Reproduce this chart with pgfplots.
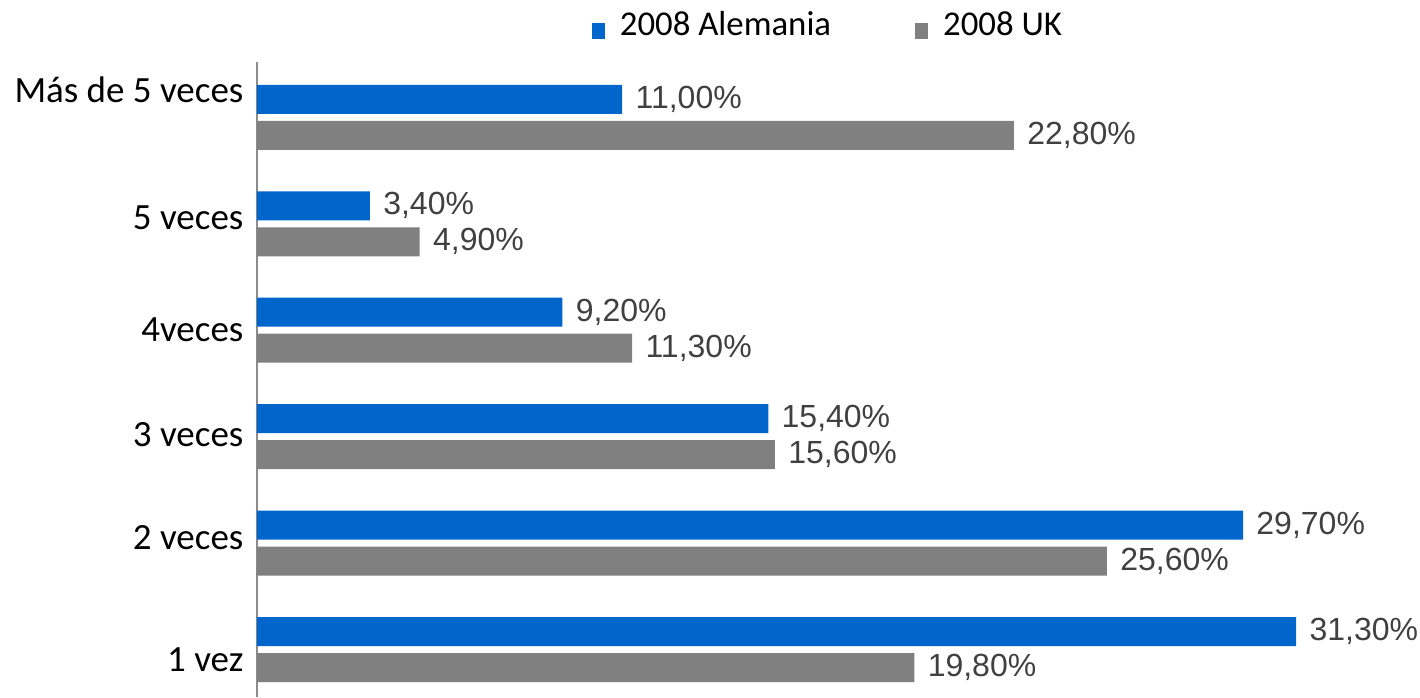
\documentclass[border=0pt]{standalone}
\usepackage{pgfplots}
\pgfplotsset{compat=1.18}
\usepackage{fontspec}
\setmainfont{Carlito}
\newfontfamily\arial{Liberation Sans}
\definecolor{cblue}{HTML}{0066CC}
\definecolor{cgrey}{HTML}{808080}
\definecolor{clab}{HTML}{404040}
\definecolor{caxis}{HTML}{8C8C8C}
\begin{document}
\begin{tikzpicture}
\path[use as bounding box] (0pt,0pt) rectangle (710pt,348.5pt);
\begin{axis}[
  at={(128.5pt,0pt)}, anchor=south west,
  scale only axis, width=564.4pt, height=317.5pt,
  xbar, bar width=14.5pt,
  xmin=0, xmax=34, ymin=-0.446, ymax=5.52,
  axis x line=none, axis y line=left,
  y axis line style={-, draw=caxis, line width=1pt},
  xtick=\empty,
  ytick={-0.099,1.048,2.016,3.003,4.055,5.259},
  yticklabels={1 vez\hspace{5pt},2 veces,3 veces,4veces,5 veces\hspace{3.5pt},Más de 5 veces},
  ytick style={draw=none},
  yticklabel style={font=\fontsize{18.5}{20}\selectfont, inner sep=0pt, xshift=-4.5pt, text=black},
  clip=false,
  nodes near coords={\pgfmathprintnumber[fixed,fixed zerofill,precision=2,use comma,assume math mode=true]{\pgfplotspointmeta}\%},
  every node near coord/.append style={font=\arial\fontsize{16}{16}\selectfont, text=clab, inner sep=0pt, xshift=6.5pt, anchor=west},
  legend columns=2,
  legend style={draw=none, fill=none, at={(axis description cs:0.291,1.024)}, anchor=south west, font=\fontsize{17.4}{18}\selectfont, /tikz/every even column/.append style={column sep=40pt}},
  legend image code/.code={\fill[#1] (0pt,-7pt) rectangle (6.5pt,1pt); \path[draw=none,fill=none] (12pt,0pt) circle (0pt);},
]
\addplot[fill=cblue, draw=none, bar shift=9pt] coordinates {(31.3,0) (29.7,1) (15.4,2) (9.2,3) (3.4,4) (11.0,5)};
\addplot[fill=cgrey, draw=none, bar shift=-9pt] coordinates {(19.8,0) (25.6,1) (15.6,2) (11.3,3) (4.9,4) (22.8,5)};
\legend{2008 Alemania, 2008 UK}
\end{axis}
\end{tikzpicture}
\end{document}
